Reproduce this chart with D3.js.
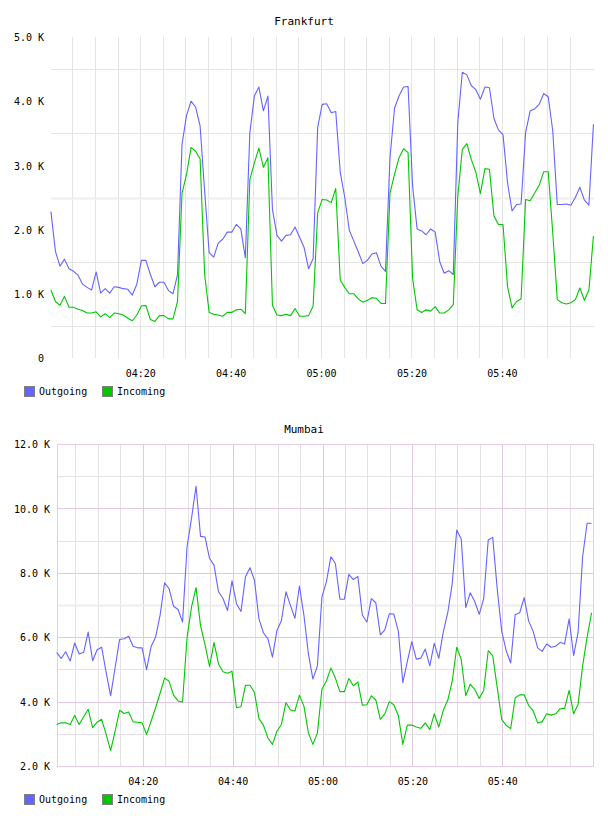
<!DOCTYPE html>
<html>
<head>
<meta charset="utf-8">
<script src="https://cdn.jsdelivr.net/npm/d3@7"></script>
<style>
  body { margin: 0; background: #fff; }
  text { font-family: "DejaVu Sans Mono", monospace; fill: #000; }
</style>
</head>
<body>
<svg id="chart" width="608" height="816"></svg>
<script>
// values in thousands, one sample per minute
const frankfurtOutgoing = [
  2.28, 1.66, 1.43, 1.54, 1.39, 1.35, 1.29, 1.15, 1.10, 1.06,
  1.34, 1.01, 1.08, 1.01, 1.11, 1.10, 1.08, 1.07, 0.98, 1.15,
  1.52, 1.52, 1.30, 1.11, 1.18, 1.18, 1.05, 1.00, 1.30, 3.33,
  3.78, 4.00, 3.91, 3.61, 2.60, 1.64, 1.57, 1.79, 1.85, 1.96,
  1.96, 2.08, 2.01, 1.56, 3.51, 4.08, 4.22, 3.85, 4.08, 2.31,
  1.91, 1.82, 1.91, 1.92, 2.04, 1.88, 1.72, 1.39, 1.55, 3.59,
  3.95, 3.96, 3.82, 3.84, 2.89, 2.50, 1.99, 1.82, 1.65, 1.47,
  1.52, 1.62, 1.64, 1.43, 1.35, 3.12, 3.89, 4.08, 4.22, 4.23,
  2.68, 2.01, 1.98, 1.92, 2.01, 1.96, 1.50, 1.32, 1.36, 1.30,
  3.67, 4.45, 4.41, 4.24, 4.18, 4.03, 4.22, 4.21, 3.73, 3.55,
  3.48, 2.73, 2.29, 2.39, 2.40, 3.51, 3.85, 3.88, 3.95, 4.12,
  4.07, 3.54, 2.39, 2.39, 2.40, 2.38, 2.50, 2.66, 2.46, 2.38,
  3.64
]
const frankfurtIncoming = [
  1.06, 0.88, 0.82, 0.96, 0.79, 0.79, 0.76, 0.74, 0.70, 0.70,
  0.72, 0.64, 0.69, 0.63, 0.70, 0.69, 0.67, 0.62, 0.58, 0.67,
  0.81, 0.82, 0.60, 0.57, 0.66, 0.66, 0.61, 0.61, 0.88, 2.57,
  2.86, 3.28, 3.22, 3.10, 1.30, 0.71, 0.68, 0.67, 0.65, 0.71,
  0.71, 0.75, 0.76, 0.69, 2.78, 3.04, 3.27, 2.97, 3.12, 0.82,
  0.67, 0.66, 0.68, 0.66, 0.77, 0.65, 0.65, 0.66, 0.81, 2.26,
  2.47, 2.46, 2.42, 2.64, 1.21, 1.10, 1.00, 1.00, 0.92, 0.87,
  0.90, 0.94, 0.93, 0.85, 0.85, 2.57, 2.86, 3.12, 3.26, 3.20,
  1.24, 0.75, 0.71, 0.75, 0.73, 0.80, 0.70, 0.70, 0.75, 0.83,
  2.52, 3.25, 3.34, 3.09, 2.89, 2.56, 2.95, 2.94, 2.21, 2.08,
  2.08, 1.11, 0.78, 0.88, 0.92, 2.47, 2.45, 2.57, 2.69, 2.90,
  2.90, 1.95, 0.91, 0.86, 0.84, 0.86, 0.91, 1.09, 0.90, 1.06,
  1.90
]
const mumbaiOutgoing = [
  5.53, 5.34, 5.55, 5.26, 5.82, 5.48, 5.53, 6.16, 5.27, 5.61,
  5.69, 4.91, 4.18, 5.06, 5.93, 5.95, 6.03, 5.72, 5.67, 5.67,
  4.99, 5.71, 6.00, 6.68, 7.69, 7.51, 6.96, 6.86, 6.47, 8.81,
  9.70, 10.69, 9.13, 9.11, 8.45, 8.24, 7.41, 7.20, 6.83, 7.75,
  7.04, 6.80, 7.88, 8.16, 7.77, 6.57, 6.13, 5.95, 5.38, 6.21,
  6.52, 7.41, 6.99, 6.59, 7.59, 6.68, 5.48, 4.70, 5.11, 7.25,
  7.72, 8.50, 8.29, 7.18, 7.18, 7.95, 7.79, 7.89, 6.68, 6.47,
  7.20, 7.07, 6.07, 6.23, 6.73, 6.72, 6.19, 4.59, 5.24, 5.86,
  5.32, 5.35, 5.63, 5.11, 5.81, 5.34, 6.16, 6.76, 7.67, 9.33,
  9.05, 6.92, 7.38, 7.11, 6.71, 7.20, 9.02, 9.10, 7.51, 6.19,
  5.58, 5.20, 6.70, 6.76, 7.23, 6.50, 6.18, 5.67, 5.56, 5.79,
  5.69, 5.72, 5.84, 5.79, 6.57, 5.43, 6.16, 8.50, 9.54, 9.54
]
const mumbaiIncoming = [
  3.29, 3.34, 3.34, 3.29, 3.57, 3.29, 3.53, 3.76, 3.19, 3.36,
  3.45, 2.98, 2.48, 3.08, 3.73, 3.63, 3.68, 3.37, 3.36, 3.34,
  2.98, 3.39, 3.81, 4.26, 4.73, 4.63, 4.20, 4.02, 3.99, 6.00,
  6.94, 7.54, 6.36, 5.77, 5.09, 5.84, 5.17, 4.93, 4.88, 4.94,
  3.81, 3.84, 4.51, 4.51, 4.28, 3.47, 3.26, 2.87, 2.67, 3.08,
  3.29, 3.97, 3.74, 3.71, 4.20, 3.86, 3.03, 2.67, 3.03, 4.38,
  4.64, 5.04, 4.73, 4.31, 4.31, 4.72, 4.49, 4.61, 3.89, 3.90,
  4.18, 4.05, 3.45, 3.62, 4.00, 3.90, 3.57, 2.67, 3.27, 3.27,
  3.21, 3.17, 3.34, 3.13, 3.62, 3.21, 3.73, 4.04, 4.64, 5.69,
  5.30, 4.18, 4.54, 4.38, 4.10, 4.35, 5.58, 5.43, 4.44, 3.45,
  3.26, 3.16, 4.12, 4.21, 4.21, 3.88, 3.71, 3.34, 3.37, 3.62,
  3.58, 3.62, 3.78, 3.79, 4.35, 3.62, 3.92, 5.11, 6.00, 6.76
]

const frankfurtTicks = [0, 1, 2, 3, 4, 5]
const mumbaiTicks = [2, 4, 6, 8, 10, 12]
const timeTicks = ['04:20', '04:40', '05:00', '05:20', '05:40']
const seriesNames = ['Outgoing', 'Incoming']
const seriesColors = ['#6464ff', '#00c800']

const parseTime = d3.timeParse('%H:%M:%S')
const hm = s => parseTime(s + ':00')

const svg = d3.select('#chart')

function drawChart ({ title, titleY, series, start, ticks, box, xRange, framed, legendY }) {
  const x = d3.scaleTime()
    .domain([hm('04:00'), hm('06:00')])
    .range(xRange)

  const y = d3.scaleLinear()
    .domain([ticks[0], ticks[ticks.length - 1]])
    .range([box.bottom, box.top])

  const g = svg.append('g')
  const minorColor = framed ? '#e6e1e6' : '#e4e4e4'
  const majorColor = framed ? '#e2c8e2' : '#e4e4e4'

  // vertical grid, every 5 minutes
  const minutes = d3.timeMinute.every(5).range(hm('04:05'), hm('06:00'))
  g.append('g')
    .selectAll('line')
    .data(minutes)
    .join('line')
      .attr('x1', d => Math.round(x(d)) + 0.5)
      .attr('x2', d => Math.round(x(d)) + 0.5)
      .attr('y1', box.top)
      .attr('y2', box.bottom)
      .attr('stroke', d => d.getMinutes() % 20 === 0 ? majorColor : minorColor)

  // horizontal grid, the middle one drawn wider
  const lo = ticks[0]
  const hi = ticks[ticks.length - 1]
  const mid = (lo + hi) / 2
  const hLevels = framed ? d3.range(lo + 1, hi, 1) : d3.range(lo + 0.5, hi, 1)
  g.append('g')
    .selectAll('line')
    .data(hLevels)
    .join('line')
      .attr('x1', box.left)
      .attr('x2', box.right)
      .attr('y1', d => Math.round(y(d)) + 0.5)
      .attr('y2', d => Math.round(y(d)) + 0.5)
      .attr('stroke', d => d === mid ? '#eeeeee' : (framed && d % 2 === 0 ? majorColor : minorColor))
      .attr('stroke-width', d => d === mid ? 2 : 1)

  if (framed) {
    g.append('rect')
      .attr('x', box.left + 0.5)
      .attr('y', box.top + 0.5)
      .attr('width', box.right - box.left - 1)
      .attr('height', box.bottom - box.top)
      .attr('fill', 'none')
      .attr('stroke', '#e6cce6')
  }

  // axes (labels only)
  const yAxis = g.append('g')
    .attr('transform', `translate(${box.left},0)`)
    .call(d3.axisLeft(y)
      .tickValues(ticks)
      .tickFormat(d => d === 0 ? '0' : d.toFixed(1) + ' K')
      .tickSize(0)
      .tickPadding(7))
  yAxis.select('.domain').remove()
  yAxis.selectAll('text').attr('dy', '0.37em')

  const xAxis = g.append('g')
    .attr('transform', `translate(0,${box.bottom})`)
    .call(d3.axisBottom(x)
      .tickValues(timeTicks.map(hm))
      .tickFormat(d3.timeFormat('%H:%M'))
      .tickSize(0)
      .tickPadding(12))
  xAxis.select('.domain').remove()

  g.selectAll('.tick text')
    .attr('font-family', '"DejaVu Sans Mono", monospace')
    .attr('font-size', 10)
    .attr('fill', '#000')

  // lines
  const startTime = parseTime(start)
  const line = d3.line()
    .x((d, i) => x(d3.timeSecond.offset(startTime, i * 60)))
    .y(d => y(d))

  series.forEach((values, k) => {
    g.append('path')
      .datum(values)
      .attr('d', line)
      .attr('fill', 'none')
      .attr('stroke', seriesColors[k])
      .attr('stroke-width', 1.1)
      .attr('stroke-linejoin', 'round')
  })

  // title
  g.append('text')
    .attr('x', 304)
    .attr('y', titleY)
    .attr('text-anchor', 'middle')
    .attr('font-size', 11)
    .text(title)

  // legend
  const legendX = [24, 102]
  const legend = g.append('g')
    .selectAll('g')
    .data(seriesNames)
    .join('g')
      .attr('transform', (d, i) => `translate(${legendX[i]},${legendY})`)
  legend.append('rect')
    .attr('x', 0.5)
    .attr('y', 0.5)
    .attr('width', 10)
    .attr('height', 10)
    .attr('fill', (d, i) => seriesColors[i])
    .attr('stroke', '#808080')
  legend.append('text')
    .attr('x', 15)
    .attr('y', 9)
    .attr('font-size', 10)
    .text(d => d)
}

drawChart({
  title: 'Frankfurt',
  titleY: 25,
  series: [frankfurtOutgoing, frankfurtIncoming],
  start: '04:00:15',
  ticks: frankfurtTicks,
  box: { left: 51, right: 594, top: 37, bottom: 358 },
  xRange: [49.8, 592.3],
  framed: false,
  legendY: 386
})

drawChart({
  title: 'Mumbai',
  titleY: 433,
  series: [mumbaiOutgoing, mumbaiIncoming],
  start: '04:00:52',
  ticks: mumbaiTicks,
  box: { left: 57, right: 594, top: 444, bottom: 766 },
  xRange: [52.8, 592.2],
  framed: true,
  legendY: 794
})
</script>
</body>
</html>
